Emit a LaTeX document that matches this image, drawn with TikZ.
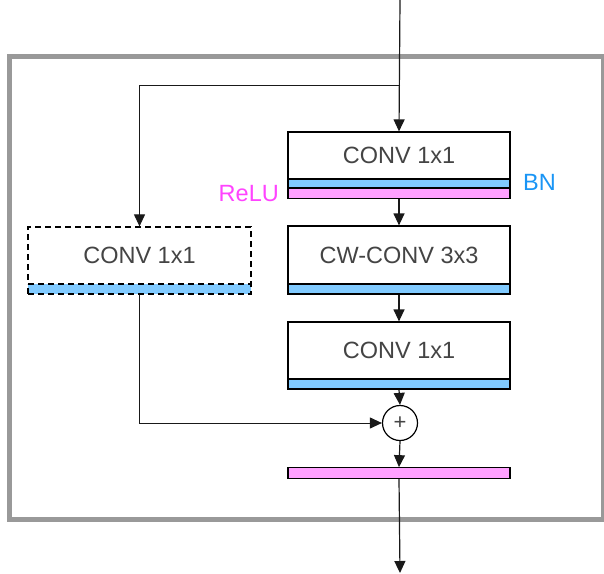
\documentclass[tikz,border=0pt]{standalone}
\usepackage{fontspec}
\setmainfont{Liberation Sans}
\usetikzlibrary{arrows.meta}
\definecolor{bnblue}{HTML}{80CAFF}
\definecolor{relupink}{HTML}{FFA0FF}
\definecolor{txtgray}{HTML}{444444}
\definecolor{framegray}{HTML}{999999}
\definecolor{bnlabel}{HTML}{1A95F5}
\definecolor{relulabel}{HTML}{FF44FF}
\begin{document}
\begin{tikzpicture}[x=1pt,y=-1pt,
  convbox/.style={draw=black,line width=1.2pt,fill=white,inner sep=0pt,text=txtgray,font=\fontsize{23.5}{28}\selectfont},
  bnstrip/.style={draw=black,line width=1.2pt,fill=bnblue,inner sep=0pt},
  relustrip/.style={draw=black,line width=1.2pt,fill=relupink,inner sep=0pt},
  dashbox/.style={dash pattern=on 6pt off 4pt},
  conn/.style={draw=black!90,line width=1.2pt},
  arr/.style={conn,-{Triangle[length=12pt,width=11pt]}},
  lbl/.style={font=\fontsize{23.5}{28}\selectfont,inner sep=0pt}]
\useasboundingbox (0,0) rectangle (604,573);
\draw[framegray,line width=5pt] (9,56) rectangle (603,519);
% main column
\node[convbox,minimum width=222pt,minimum height=47pt] (c1) at (399,155.5) {CONV 1x1};
\node[bnstrip,minimum width=222pt,minimum height=9pt] (bn1) at (399,183.5) {};
\node[relustrip,minimum width=222pt,minimum height=10pt] (relu1) at (399,193.5) {};
\node[convbox,minimum width=222pt,minimum height=58pt] (c2) at (399,255) {CW-CONV 3x3};
\node[bnstrip,minimum width=222pt,minimum height=10pt] (bn2) at (399,289) {};
\node[convbox,minimum width=222pt,minimum height=57pt] (c3) at (399,350.5) {CONV 1x1};
\node[bnstrip,minimum width=222pt,minimum height=10pt] (bn3) at (399,384) {};
\node[circle,draw=black,line width=1.2pt,minimum size=35pt,inner sep=0pt,text=txtgray,font=\fontsize{22}{24}\selectfont] (plus) at (400,423) {+};
\node[relustrip,minimum width=222pt,minimum height=10.5pt] (out) at (399,473) {};
% shortcut
\node[convbox,dashbox,minimum width=223pt,minimum height=57pt] (d1) at (139.5,255.5) {CONV 1x1};
\node[bnstrip,dashbox,minimum width=223pt,minimum height=10pt] (dbn) at (139.5,289) {};
% labels
\node[lbl,text=relulabel,anchor=east] (relul) at (279,193.5) {ReLU};
\node[lbl,text=bnlabel,anchor=west] (bnl) at (523,182.5) {BN};
% connectors
\coordinate (top) at (400,0);
\coordinate (split) at (400,85.5);
\coordinate (bottom) at (400,573);
\draw[arr] (top) -- (c1.north);
\draw[arr,line width=1pt] (split) -| (d1.north);
\draw[arr] (relu1.south) -- (c2.north);
\draw[arr] (bn2.south) -- (c3.north);
\draw[arr] (bn3.south) -- (plus.north);
\draw[arr] (plus.south) -- (out.north);
\draw[arr] (out.south) -- (bottom);
\draw[arr,line width=1pt] (dbn.south) |- (plus.west);
\end{tikzpicture}
\end{document}
